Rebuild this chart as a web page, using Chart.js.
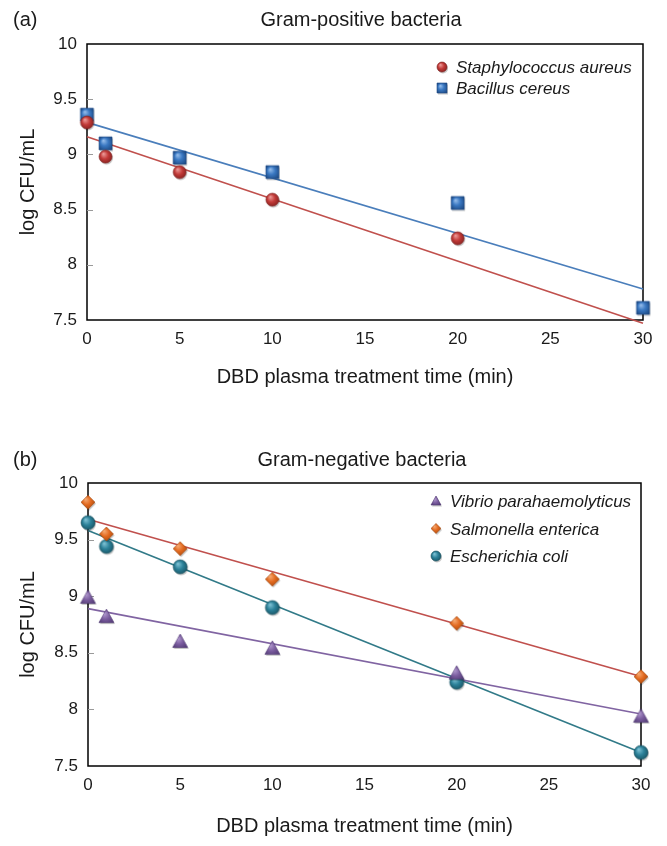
<!DOCTYPE html>
<html>
<head>
<meta charset="utf-8">
<script src="https://cdn.jsdelivr.net/npm/chart.js@4.4.1/dist/chart.umd.min.js"></script>
<style>
  body { margin: 0; background: #fff; }
  .panel { position: absolute; left: 0; }
</style>
</head>
<body>
<div class="panel" style="top:0px"><canvas id="chartA" width="667" height="400"></canvas></div>
<div class="panel" style="top:420px"><canvas id="chartB" width="667" height="426"></canvas></div>
<script>
// treatment times (min)
const times = [0, 1, 5, 10, 20, 30];
const xTicks = [0, 5, 10, 15, 20, 25, 30];
const yTicks = [7.5, 8, 8.5, 9, 9.5, 10];

// (a) Gram-positive, log CFU/mL
const staphAureus = [9.29, 8.98, 8.84, 8.59, 8.24, null];
const bacillusCereus = [9.36, 9.10, 8.97, 8.84, 8.56, 7.61];

// (b) Gram-negative, log CFU/mL
const vibrioPara = [8.99, 8.82, 8.60, 8.54, 8.32, 7.94];
const salmonellaEnt = [9.83, 9.55, 9.42, 9.15, 8.76, 8.29];
const escherichiaColi = [9.65, 9.44, 9.26, 8.90, 8.24, 7.62];

// linear trend lines, read at t = 0 and t = 30
const fitTimes = [0, 30];
const staphFit = [9.16, 7.47];
const bacillusFit = [9.29, 7.78];
const vibrioFit = [8.89, 7.96];
const salmonellaFit = [9.68, 8.29];
const ecoliFit = [9.58, 7.62];

const FONT = '"Liberation Sans", Arial, sans-serif';
Chart.defaults.font.family = FONT;
Chart.defaults.color = '#1a1a1a';

// shaded marker drawn once into a small canvas, used as pointStyle
function marker(shape, size, base, light, dark) {
  const pad = 3, s = size + pad * 2;
  const c = document.createElement('canvas');
  c.width = c.height = s;
  const g = c.getContext('2d');
  const m = s / 2, r = size / 2;
  const path = (dx, dy) => {
    g.beginPath();
    if (shape === 'circle') g.arc(m + dx, m + dy, r, 0, Math.PI * 2);
    else if (shape === 'square') g.rect(m - r + dx, m - r + dy, size, size);
    else if (shape === 'triangle') {
      g.moveTo(m + dx, m - r + dy);
      g.lineTo(m + r + dx, m + r * 0.8 + dy);
      g.lineTo(m - r + dx, m + r * 0.8 + dy);
      g.closePath();
    } else if (shape === 'diamond') {
      g.moveTo(m + dx, m - r + dy);
      g.lineTo(m + r + dx, m + dy);
      g.lineTo(m + dx, m + r + dy);
      g.lineTo(m - r + dx, m + dy);
      g.closePath();
    }
  };
  path(1, 1.5);
  g.fillStyle = 'rgba(0,0,0,0.22)';
  g.fill();
  const grad = g.createRadialGradient(m - r * 0.35, m - r * 0.45, 0, m, m, r * 1.2);
  grad.addColorStop(0, light);
  grad.addColorStop(0.5, base);
  grad.addColorStop(1, dark);
  path(0, 0);
  g.fillStyle = grad;
  g.fill();
  g.strokeStyle = dark;
  g.lineWidth = 0.6;
  g.stroke();
  return c;
}

const pts = (xs, ys) => xs.map((x, i) => ({ x: x, y: ys[i] })).filter(p => p.y !== null);

function pointSet(label, values, shape, size, colors) {
  return {
    label: label,
    data: pts(times, values),
    pointStyle: marker(shape, size, colors[0], colors[1], colors[2]),
    legendStyle: marker(shape, 10, colors[0], colors[1], colors[2]),
    pointRadius: size / 2,
    showLine: false,
    clip: false,
    order: 0
  };
}

function fitSet(values, color) {
  return {
    label: 'fit',
    data: pts(fitTimes, values),
    showLine: true,
    borderColor: color,
    borderWidth: 1.6,
    pointRadius: 0,
    clip: false,
    order: 1
  };
}

const decor = {
  id: 'decor',
  beforeDatasetsDraw(chart) {
    const { ctx, chartArea: a } = chart;
    const y = chart.scales.y;
    ctx.save();
    ctx.strokeStyle = '#000';
    ctx.lineWidth = 1.5;
    ctx.strokeRect(a.left, a.top, a.right - a.left, a.bottom - a.top);
    ctx.strokeStyle = '#9a9a9a';
    ctx.lineWidth = 1;
    y.ticks.forEach(t => {
      const py = Math.round(y.getPixelForValue(t.value)) + 0.5;
      if (py <= a.top + 2 || py >= a.bottom - 2) return;
      ctx.beginPath();
      ctx.moveTo(a.left, py);
      ctx.lineTo(a.left + 6, py);
      ctx.stroke();
    });
    ctx.restore();
  },
  afterDraw(chart, args, o) {
    const ctx = chart.ctx;
    ctx.save();
    ctx.fillStyle = '#1a1a1a';
    ctx.textBaseline = 'alphabetic';
    ctx.font = '20px ' + FONT;
    ctx.textAlign = 'left';
    ctx.fillText(o.tag, 13, o.titleY);
    ctx.textAlign = 'center';
    ctx.fillText(o.title, o.titleX, o.titleY);
    ctx.font = 'italic 17px ' + FONT;
    ctx.textAlign = 'left';
    let row = 0;
    chart.data.datasets.forEach(ds => {
      if (!ds.legendStyle) return;
      const by = o.legendY + row * o.legendGap;
      const img = ds.legendStyle;
      ctx.drawImage(img, o.legendX - 14 - img.width / 2, by - 6 - img.height / 2);
      ctx.fillText(ds.label, o.legendX, by);
      row++;
    });
    ctx.restore();
  }
};

function build(id, datasets, cfg) {
  return new Chart(document.getElementById(id), {
    type: 'scatter',
    data: { datasets: datasets },
    plugins: [decor],
    options: {
      responsive: false,
      animation: false,
      layout: { padding: { top: cfg.top, right: cfg.right, left: 0, bottom: 0 } },
      plugins: {
        legend: { display: false },
        tooltip: { enabled: false },
        decor: cfg.decor
      },
      scales: {
        x: {
          type: 'linear',
          min: 0,
          max: 30,
          afterBuildTicks: s => { s.ticks = xTicks.map(v => ({ value: v })); },
          afterFit: s => { s.height = cfg.xHeight; },
          grid: { display: false, drawTicks: false },
          border: { display: false },
          ticks: { font: { size: 17 }, padding: 9, color: '#1a1a1a', callback: v => String(v) },
          title: {
            display: true,
            text: 'DBD plasma treatment time (min)',
            font: { size: 20 },
            color: '#1a1a1a',
            padding: { top: 0, bottom: cfg.xTitlePad }
          }
        },
        y: {
          type: 'linear',
          min: 7.5,
          max: 10,
          afterBuildTicks: s => { s.ticks = yTicks.map(v => ({ value: v })); },
          afterFit: s => { s.width = cfg.yWidth; },
          grid: { display: false, drawTicks: false },
          border: { display: false },
          ticks: { font: { size: 17 }, padding: 10, color: '#1a1a1a', callback: v => String(v) },
          title: {
            display: true,
            text: 'log CFU/mL',
            font: { size: 20 },
            color: '#1a1a1a',
            padding: { top: 16, bottom: 0 }
          }
        }
      }
    }
  });
}

build('chartA', [
  pointSet('Staphylococcus aureus', staphAureus, 'circle', 13, ['#c23a38', '#f0a3a0', '#7e1e1c']),
  pointSet('Bacillus cereus', bacillusCereus, 'square', 13, ['#3a78c2', '#9cc2ee', '#1f4c86']),
  fitSet(staphFit, '#c0504d'),
  fitSet(bacillusFit, '#4a7ebb')
], {
  top: 44, right: 24, xHeight: 80, yWidth: 87, xTitlePad: 11,
  decor: { tag: '(a)', title: 'Gram-positive bacteria', titleX: 361, titleY: 26, legendX: 456, legendY: 73, legendGap: 21 }
});

build('chartB', [
  pointSet('Vibrio parahaemolyticus', vibrioPara, 'triangle', 15, ['#7a5c9e', '#b9a2d6', '#4f3872']),
  pointSet('Salmonella enterica', salmonellaEnt, 'diamond', 14, ['#e2691f', '#f8b07a', '#a3470c']),
  pointSet('Escherichia coli', escherichiaColi, 'circle', 14, ['#2c8199', '#86c8da', '#16505f']),
  fitSet(vibrioFit, '#8064a2'),
  fitSet(salmonellaFit, '#c0504d'),
  fitSet(ecoliFit, '#317a88')
], {
  top: 63, right: 26, xHeight: 80, yWidth: 88, xTitlePad: 8,
  decor: { tag: '(b)', title: 'Gram-negative bacteria', titleX: 362, titleY: 46, legendX: 450, legendY: 87, legendGap: 27.5 }
});
</script>
</body>
</html>
